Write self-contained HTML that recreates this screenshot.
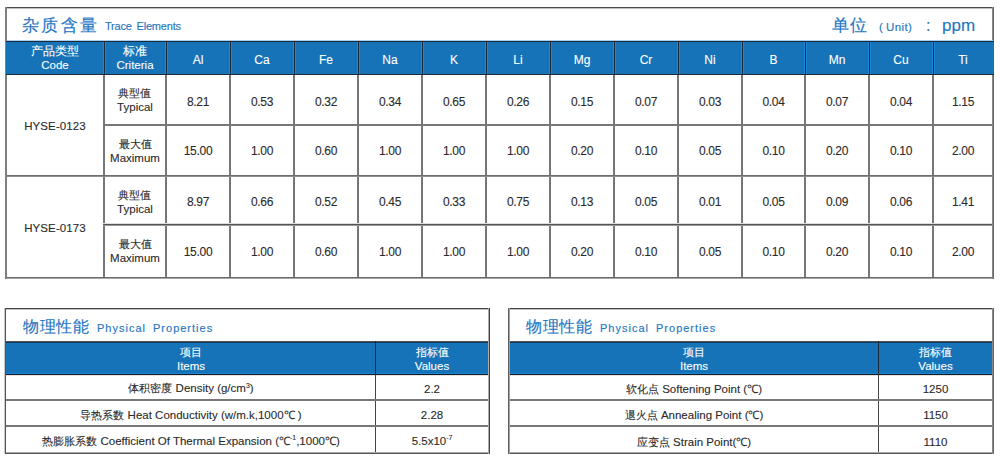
<!DOCTYPE html>
<html><head><meta charset="utf-8"><style>
html,body{margin:0;padding:0;background:#fff;}
body{width:1000px;height:461px;position:relative;overflow:hidden;font-family:"Liberation Sans",sans-serif;}
body>div{position:absolute;}
.a{-webkit-text-stroke:0.15px;white-space:nowrap;line-height:20px;}
.c{-webkit-text-stroke:0.1px;display:flex;align-items:center;justify-content:center;text-align:center;white-space:nowrap;line-height:14px;}
sup{font-size:0.6em;vertical-align:0;position:relative;top:-0.6em;}
</style></head><body>
<div style="left:103px;top:75px;width:2px;height:204px;background:#777777"></div>
<div style="left:165px;top:75px;width:2px;height:204px;background:#777777"></div>
<div style="left:229px;top:75px;width:2px;height:204px;background:#777777"></div>
<div style="left:293px;top:75px;width:2px;height:204px;background:#777777"></div>
<div style="left:357px;top:75px;width:2px;height:204px;background:#777777"></div>
<div style="left:421px;top:75px;width:2px;height:204px;background:#777777"></div>
<div style="left:485px;top:75px;width:2px;height:204px;background:#777777"></div>
<div style="left:549px;top:75px;width:2px;height:204px;background:#777777"></div>
<div style="left:613px;top:75px;width:2px;height:204px;background:#777777"></div>
<div style="left:677px;top:75px;width:2px;height:204px;background:#777777"></div>
<div style="left:741px;top:75px;width:2px;height:204px;background:#777777"></div>
<div style="left:804px;top:75px;width:2px;height:204px;background:#777777"></div>
<div style="left:868px;top:75px;width:2px;height:204px;background:#777777"></div>
<div style="left:932px;top:75px;width:2px;height:204px;background:#777777"></div>
<div style="left:103px;top:124px;width:891px;height:2px;background:#777777"></div>
<div style="left:5px;top:175px;width:989px;height:1px;background:#6e6e6e"></div>
<div style="left:5px;top:176px;width:989px;height:1px;background:#8e8e8e"></div>
<div style="left:103px;top:223px;width:891px;height:1px;background:#dddddd"></div>
<div style="left:103px;top:224px;width:891px;height:1px;background:#555555"></div>
<div style="left:103px;top:225px;width:891px;height:1px;background:#999999"></div>
<div style="left:5px;top:7px;width:989px;height:1px;background:#4a4a4a"></div>
<div style="left:5px;top:8px;width:989px;height:1px;background:#c0c0c0"></div>
<div style="left:5px;top:277px;width:989px;height:1px;background:#686868"></div>
<div style="left:5px;top:278px;width:989px;height:1px;background:#a8a8a8"></div>
<div style="left:5px;top:7px;width:2px;height:272px;background:#808080"></div>
<div style="left:992px;top:7px;width:1px;height:272px;background:#888888"></div>
<div style="left:993px;top:7px;width:1px;height:272px;background:#666666"></div>
<div style="left:7px;top:40px;width:986px;height:1px;background:#a6cff0"></div>
<div style="left:6px;top:41px;width:988px;height:34px;background:#1673b7"></div>
<div style="left:6px;top:41px;width:988px;height:1px;background:#1e2a36"></div>
<div style="left:6px;top:74px;width:988px;height:1px;background:#1e2a36"></div>
<div style="left:103px;top:42px;width:1px;height:32px;background:#1f86d6"></div>
<div style="left:104px;top:41px;width:1px;height:34px;background:#1e2a36"></div>
<div style="left:105px;top:42px;width:1px;height:32px;background:#1f86d6"></div>
<div style="left:165px;top:42px;width:1px;height:32px;background:#1f86d6"></div>
<div style="left:166px;top:41px;width:1px;height:34px;background:#1e2a36"></div>
<div style="left:167px;top:42px;width:1px;height:32px;background:#1f86d6"></div>
<div style="left:229px;top:42px;width:1px;height:32px;background:#1f86d6"></div>
<div style="left:230px;top:41px;width:1px;height:34px;background:#1e2a36"></div>
<div style="left:231px;top:42px;width:1px;height:32px;background:#1f86d6"></div>
<div style="left:293px;top:42px;width:1px;height:32px;background:#1f86d6"></div>
<div style="left:294px;top:41px;width:1px;height:34px;background:#1e2a36"></div>
<div style="left:295px;top:42px;width:1px;height:32px;background:#1f86d6"></div>
<div style="left:357px;top:42px;width:1px;height:32px;background:#1f86d6"></div>
<div style="left:358px;top:41px;width:1px;height:34px;background:#1e2a36"></div>
<div style="left:359px;top:42px;width:1px;height:32px;background:#1f86d6"></div>
<div style="left:421px;top:42px;width:1px;height:32px;background:#1f86d6"></div>
<div style="left:422px;top:41px;width:1px;height:34px;background:#1e2a36"></div>
<div style="left:423px;top:42px;width:1px;height:32px;background:#1f86d6"></div>
<div style="left:485px;top:42px;width:1px;height:32px;background:#1f86d6"></div>
<div style="left:486px;top:41px;width:1px;height:34px;background:#1e2a36"></div>
<div style="left:487px;top:42px;width:1px;height:32px;background:#1f86d6"></div>
<div style="left:549px;top:42px;width:1px;height:32px;background:#1f86d6"></div>
<div style="left:550px;top:41px;width:1px;height:34px;background:#1e2a36"></div>
<div style="left:551px;top:42px;width:1px;height:32px;background:#1f86d6"></div>
<div style="left:613px;top:42px;width:1px;height:32px;background:#1f86d6"></div>
<div style="left:614px;top:41px;width:1px;height:34px;background:#1e2a36"></div>
<div style="left:615px;top:42px;width:1px;height:32px;background:#1f86d6"></div>
<div style="left:677px;top:42px;width:1px;height:32px;background:#1f86d6"></div>
<div style="left:678px;top:41px;width:1px;height:34px;background:#1e2a36"></div>
<div style="left:679px;top:42px;width:1px;height:32px;background:#1f86d6"></div>
<div style="left:741px;top:42px;width:1px;height:32px;background:#1f86d6"></div>
<div style="left:742px;top:41px;width:1px;height:34px;background:#1e2a36"></div>
<div style="left:743px;top:42px;width:1px;height:32px;background:#1f86d6"></div>
<div style="left:804px;top:42px;width:1px;height:32px;background:#1f86d6"></div>
<div style="left:805px;top:41px;width:1px;height:34px;background:#1e2a36"></div>
<div style="left:806px;top:42px;width:1px;height:32px;background:#1f86d6"></div>
<div style="left:868px;top:42px;width:1px;height:32px;background:#1f86d6"></div>
<div style="left:869px;top:41px;width:1px;height:34px;background:#1e2a36"></div>
<div style="left:870px;top:42px;width:1px;height:32px;background:#1f86d6"></div>
<div style="left:932px;top:42px;width:1px;height:32px;background:#1f86d6"></div>
<div style="left:933px;top:41px;width:1px;height:34px;background:#1e2a36"></div>
<div style="left:934px;top:42px;width:1px;height:32px;background:#1f86d6"></div>
<div class="a" style="left:22px;top:16px;font-size:17px;letter-spacing:2.3px;color:#2576c2">杂质含量</div>
<div class="a" style="left:105px;top:16px;font-size:11px;letter-spacing:-0.2px;word-spacing:2px;color:#2576c2">Trace Elements</div>
<div class="a" style="left:832px;top:16px;font-size:17px;letter-spacing:0.5px;color:#2576c2">单位</div>
<div class="a" style="left:879px;top:17px;font-size:11.5px;letter-spacing:0.4px;color:#2576c2">(&thinsp;Unit)</div>
<div class="a" style="left:926px;top:16px;font-size:16px;color:#2576c2">:</div>
<div class="a" style="left:942px;top:16px;font-size:17px;color:#2576c2">ppm</div>
<div class="c" style="left:7px;top:42px;width:96px;height:32px;font-size:11.5px;line-height:14px;color:#fff;"><div><span style="font-size:11.5px">产品类型</span><br>Code</div></div>
<div class="c" style="left:105px;top:42px;width:60px;height:32px;font-size:11.5px;line-height:14px;color:#fff;"><div><span style="font-size:11.5px">标准</span><br>Criteria</div></div>
<div class="c" style="left:167px;top:44px;width:62px;height:32px;font-size:12px;color:#fff;"><div>Al</div></div>
<div class="c" style="left:231px;top:44px;width:62px;height:32px;font-size:12px;color:#fff;"><div>Ca</div></div>
<div class="c" style="left:295px;top:44px;width:62px;height:32px;font-size:12px;color:#fff;"><div>Fe</div></div>
<div class="c" style="left:359px;top:44px;width:62px;height:32px;font-size:12px;color:#fff;"><div>Na</div></div>
<div class="c" style="left:423px;top:44px;width:62px;height:32px;font-size:12px;color:#fff;"><div>K</div></div>
<div class="c" style="left:487px;top:44px;width:62px;height:32px;font-size:12px;color:#fff;"><div>Li</div></div>
<div class="c" style="left:551px;top:44px;width:62px;height:32px;font-size:12px;color:#fff;"><div>Mg</div></div>
<div class="c" style="left:615px;top:44px;width:62px;height:32px;font-size:12px;color:#fff;"><div>Cr</div></div>
<div class="c" style="left:679px;top:44px;width:62px;height:32px;font-size:12px;color:#fff;"><div>Ni</div></div>
<div class="c" style="left:743px;top:44px;width:61px;height:32px;font-size:12px;color:#fff;"><div>B</div></div>
<div class="c" style="left:806px;top:44px;width:62px;height:32px;font-size:12px;color:#fff;"><div>Mn</div></div>
<div class="c" style="left:870px;top:44px;width:62px;height:32px;font-size:12px;color:#fff;"><div>Cu</div></div>
<div class="c" style="left:934px;top:44px;width:58px;height:32px;font-size:12px;color:#fff;"><div>Ti</div></div>
<div class="c" style="left:105px;top:75px;width:60px;height:49px;font-size:11.5px;line-height:14px;color:#2a2a2a;"><div><span style="font-size:10.5px">典型值</span><br>Typical</div></div>
<div class="c" style="left:167px;top:77px;width:62px;height:49px;font-size:12px;color:#2a2a2a;letter-spacing:-0.3px"><div>8.21</div></div>
<div class="c" style="left:231px;top:77px;width:62px;height:49px;font-size:12px;color:#2a2a2a;letter-spacing:-0.3px"><div>0.53</div></div>
<div class="c" style="left:295px;top:77px;width:62px;height:49px;font-size:12px;color:#2a2a2a;letter-spacing:-0.3px"><div>0.32</div></div>
<div class="c" style="left:359px;top:77px;width:62px;height:49px;font-size:12px;color:#2a2a2a;letter-spacing:-0.3px"><div>0.34</div></div>
<div class="c" style="left:423px;top:77px;width:62px;height:49px;font-size:12px;color:#2a2a2a;letter-spacing:-0.3px"><div>0.65</div></div>
<div class="c" style="left:487px;top:77px;width:62px;height:49px;font-size:12px;color:#2a2a2a;letter-spacing:-0.3px"><div>0.26</div></div>
<div class="c" style="left:551px;top:77px;width:62px;height:49px;font-size:12px;color:#2a2a2a;letter-spacing:-0.3px"><div>0.15</div></div>
<div class="c" style="left:615px;top:77px;width:62px;height:49px;font-size:12px;color:#2a2a2a;letter-spacing:-0.3px"><div>0.07</div></div>
<div class="c" style="left:679px;top:77px;width:62px;height:49px;font-size:12px;color:#2a2a2a;letter-spacing:-0.3px"><div>0.03</div></div>
<div class="c" style="left:743px;top:77px;width:61px;height:49px;font-size:12px;color:#2a2a2a;letter-spacing:-0.3px"><div>0.04</div></div>
<div class="c" style="left:806px;top:77px;width:62px;height:49px;font-size:12px;color:#2a2a2a;letter-spacing:-0.3px"><div>0.07</div></div>
<div class="c" style="left:870px;top:77px;width:62px;height:49px;font-size:12px;color:#2a2a2a;letter-spacing:-0.3px"><div>0.04</div></div>
<div class="c" style="left:934px;top:77px;width:58px;height:49px;font-size:12px;color:#2a2a2a;letter-spacing:-0.3px"><div>1.15</div></div>
<div class="c" style="left:105px;top:126.5px;width:60px;height:49px;font-size:11.5px;line-height:14px;color:#2a2a2a;"><div><span style="font-size:10.5px">最大值</span><br>Maximum</div></div>
<div class="c" style="left:167px;top:126.5px;width:62px;height:49px;font-size:12px;color:#2a2a2a;letter-spacing:-0.3px"><div>15.00</div></div>
<div class="c" style="left:231px;top:126.5px;width:62px;height:49px;font-size:12px;color:#2a2a2a;letter-spacing:-0.3px"><div>1.00</div></div>
<div class="c" style="left:295px;top:126.5px;width:62px;height:49px;font-size:12px;color:#2a2a2a;letter-spacing:-0.3px"><div>0.60</div></div>
<div class="c" style="left:359px;top:126.5px;width:62px;height:49px;font-size:12px;color:#2a2a2a;letter-spacing:-0.3px"><div>1.00</div></div>
<div class="c" style="left:423px;top:126.5px;width:62px;height:49px;font-size:12px;color:#2a2a2a;letter-spacing:-0.3px"><div>1.00</div></div>
<div class="c" style="left:487px;top:126.5px;width:62px;height:49px;font-size:12px;color:#2a2a2a;letter-spacing:-0.3px"><div>1.00</div></div>
<div class="c" style="left:551px;top:126.5px;width:62px;height:49px;font-size:12px;color:#2a2a2a;letter-spacing:-0.3px"><div>0.20</div></div>
<div class="c" style="left:615px;top:126.5px;width:62px;height:49px;font-size:12px;color:#2a2a2a;letter-spacing:-0.3px"><div>0.10</div></div>
<div class="c" style="left:679px;top:126.5px;width:62px;height:49px;font-size:12px;color:#2a2a2a;letter-spacing:-0.3px"><div>0.05</div></div>
<div class="c" style="left:743px;top:126.5px;width:61px;height:49px;font-size:12px;color:#2a2a2a;letter-spacing:-0.3px"><div>0.10</div></div>
<div class="c" style="left:806px;top:126.5px;width:62px;height:49px;font-size:12px;color:#2a2a2a;letter-spacing:-0.3px"><div>0.20</div></div>
<div class="c" style="left:870px;top:126.5px;width:62px;height:49px;font-size:12px;color:#2a2a2a;letter-spacing:-0.3px"><div>0.10</div></div>
<div class="c" style="left:934px;top:126.5px;width:58px;height:49px;font-size:12px;color:#2a2a2a;letter-spacing:-0.3px"><div>2.00</div></div>
<div class="c" style="left:105px;top:178px;width:60px;height:47px;font-size:11.5px;line-height:14px;color:#2a2a2a;"><div><span style="font-size:10.5px">典型值</span><br>Typical</div></div>
<div class="c" style="left:167px;top:178px;width:62px;height:47px;font-size:12px;color:#2a2a2a;letter-spacing:-0.3px"><div>8.97</div></div>
<div class="c" style="left:231px;top:178px;width:62px;height:47px;font-size:12px;color:#2a2a2a;letter-spacing:-0.3px"><div>0.66</div></div>
<div class="c" style="left:295px;top:178px;width:62px;height:47px;font-size:12px;color:#2a2a2a;letter-spacing:-0.3px"><div>0.52</div></div>
<div class="c" style="left:359px;top:178px;width:62px;height:47px;font-size:12px;color:#2a2a2a;letter-spacing:-0.3px"><div>0.45</div></div>
<div class="c" style="left:423px;top:178px;width:62px;height:47px;font-size:12px;color:#2a2a2a;letter-spacing:-0.3px"><div>0.33</div></div>
<div class="c" style="left:487px;top:178px;width:62px;height:47px;font-size:12px;color:#2a2a2a;letter-spacing:-0.3px"><div>0.75</div></div>
<div class="c" style="left:551px;top:178px;width:62px;height:47px;font-size:12px;color:#2a2a2a;letter-spacing:-0.3px"><div>0.13</div></div>
<div class="c" style="left:615px;top:178px;width:62px;height:47px;font-size:12px;color:#2a2a2a;letter-spacing:-0.3px"><div>0.05</div></div>
<div class="c" style="left:679px;top:178px;width:62px;height:47px;font-size:12px;color:#2a2a2a;letter-spacing:-0.3px"><div>0.01</div></div>
<div class="c" style="left:743px;top:178px;width:61px;height:47px;font-size:12px;color:#2a2a2a;letter-spacing:-0.3px"><div>0.05</div></div>
<div class="c" style="left:806px;top:178px;width:62px;height:47px;font-size:12px;color:#2a2a2a;letter-spacing:-0.3px"><div>0.09</div></div>
<div class="c" style="left:870px;top:178px;width:62px;height:47px;font-size:12px;color:#2a2a2a;letter-spacing:-0.3px"><div>0.06</div></div>
<div class="c" style="left:934px;top:178px;width:58px;height:47px;font-size:12px;color:#2a2a2a;letter-spacing:-0.3px"><div>1.41</div></div>
<div class="c" style="left:105px;top:225px;width:60px;height:51px;font-size:11.5px;line-height:14px;color:#2a2a2a;"><div><span style="font-size:10.5px">最大值</span><br>Maximum</div></div>
<div class="c" style="left:167px;top:226px;width:62px;height:51px;font-size:12px;color:#2a2a2a;letter-spacing:-0.3px"><div>15.00</div></div>
<div class="c" style="left:231px;top:226px;width:62px;height:51px;font-size:12px;color:#2a2a2a;letter-spacing:-0.3px"><div>1.00</div></div>
<div class="c" style="left:295px;top:226px;width:62px;height:51px;font-size:12px;color:#2a2a2a;letter-spacing:-0.3px"><div>0.60</div></div>
<div class="c" style="left:359px;top:226px;width:62px;height:51px;font-size:12px;color:#2a2a2a;letter-spacing:-0.3px"><div>1.00</div></div>
<div class="c" style="left:423px;top:226px;width:62px;height:51px;font-size:12px;color:#2a2a2a;letter-spacing:-0.3px"><div>1.00</div></div>
<div class="c" style="left:487px;top:226px;width:62px;height:51px;font-size:12px;color:#2a2a2a;letter-spacing:-0.3px"><div>1.00</div></div>
<div class="c" style="left:551px;top:226px;width:62px;height:51px;font-size:12px;color:#2a2a2a;letter-spacing:-0.3px"><div>0.20</div></div>
<div class="c" style="left:615px;top:226px;width:62px;height:51px;font-size:12px;color:#2a2a2a;letter-spacing:-0.3px"><div>0.10</div></div>
<div class="c" style="left:679px;top:226px;width:62px;height:51px;font-size:12px;color:#2a2a2a;letter-spacing:-0.3px"><div>0.05</div></div>
<div class="c" style="left:743px;top:226px;width:61px;height:51px;font-size:12px;color:#2a2a2a;letter-spacing:-0.3px"><div>0.10</div></div>
<div class="c" style="left:806px;top:226px;width:62px;height:51px;font-size:12px;color:#2a2a2a;letter-spacing:-0.3px"><div>0.20</div></div>
<div class="c" style="left:870px;top:226px;width:62px;height:51px;font-size:12px;color:#2a2a2a;letter-spacing:-0.3px"><div>0.10</div></div>
<div class="c" style="left:934px;top:226px;width:58px;height:51px;font-size:12px;color:#2a2a2a;letter-spacing:-0.3px"><div>2.00</div></div>
<div class="c" style="left:7px;top:76px;width:96px;height:100px;font-size:11.5px;color:#2a2a2a;letter-spacing:0.1px"><div>HYSE-0123</div></div>
<div class="c" style="left:7px;top:178px;width:96px;height:100px;font-size:11.5px;color:#2a2a2a;letter-spacing:0.1px"><div>HYSE-0173</div></div>
<div style="left:5px;top:341px;width:485px;height:34px;background:#1673b7"></div>
<div style="left:5px;top:341px;width:485px;height:1px;background:#55504c"></div>
<div style="left:5px;top:342px;width:485px;height:1px;background:#0f3d66"></div>
<div style="left:5px;top:373px;width:485px;height:1px;background:#1a84d2"></div>
<div style="left:5px;top:374px;width:485px;height:1px;background:#0c1c2c"></div>
<div style="left:5px;top:375px;width:485px;height:1px;background:#ece2da"></div>
<div style="left:375px;top:341px;width:1px;height:34px;background:#1e2a36"></div>
<div style="left:375px;top:375px;width:1px;height:79px;background:#444"></div>
<div style="left:5px;top:399px;width:485px;height:2px;background:#777777"></div>
<div style="left:5px;top:425px;width:485px;height:2px;background:#777777"></div>
<div style="left:5px;top:308px;width:485px;height:1px;background:#444444"></div>
<div style="left:5px;top:309px;width:485px;height:1px;background:#c4c4c4"></div>
<div style="left:5px;top:452px;width:485px;height:1px;background:#aaaaaa"></div>
<div style="left:5px;top:453px;width:485px;height:1px;background:#555555"></div>
<div style="left:4px;top:308px;width:1px;height:146px;background:#c8c8c8"></div>
<div style="left:5px;top:308px;width:1px;height:146px;background:#555555"></div>
<div style="left:488px;top:308px;width:1px;height:146px;background:#aaaaaa"></div>
<div style="left:489px;top:308px;width:1px;height:146px;background:#444444"></div>
<div class="a" style="left:23px;top:317px;font-size:16px;letter-spacing:0.6px;color:#2576c2">物理性能</div>
<div class="a" style="left:97px;top:318px;font-size:11px;letter-spacing:1px;word-spacing:3px;color:#2576c2">Physical Properties</div>
<div class="c" style="left:7px;top:343px;width:368px;height:32px;font-size:11.5px;line-height:14.5px;color:#fff;"><div><span style="font-size:11px">项目</span><br>Items</div></div>
<div class="c" style="left:376px;top:343px;width:112px;height:32px;font-size:11.5px;line-height:14.5px;color:#fff;"><div><span style="font-size:11px">指标值</span><br>Values</div></div>
<div class="c" style="left:7px;top:377px;width:368px;height:24px;font-size:11.5px;color:#2a2a2a;"><div><span style="font-size:10.5px">体积密度</span> Density (g/cm<sup>3</sup>)</div></div>
<div class="c" style="left:376px;top:377px;width:112px;height:24px;font-size:11.5px;color:#2a2a2a;"><div>2.2</div></div>
<div class="c" style="left:7px;top:403px;width:368px;height:24px;font-size:11.5px;color:#2a2a2a;"><div><span style="font-size:10.5px">导热系数</span> Heat Conductivity (w/m.k,1000℃ )</div></div>
<div class="c" style="left:376px;top:403px;width:112px;height:24px;font-size:11.5px;color:#2a2a2a;"><div>2.28</div></div>
<div class="c" style="left:7px;top:429px;width:368px;height:25px;font-size:11.5px;color:#2a2a2a;"><div><span style="font-size:10.5px">热膨胀系数</span> Coefficient Of Thermal Expansion (℃<sup>-1</sup>,1000℃)</div></div>
<div class="c" style="left:376px;top:429px;width:112px;height:25px;font-size:11.5px;color:#2a2a2a;"><div>5.5x10<sup>-7</sup></div></div>
<div style="left:508px;top:341px;width:486px;height:34px;background:#1673b7"></div>
<div style="left:508px;top:341px;width:486px;height:1px;background:#55504c"></div>
<div style="left:508px;top:342px;width:486px;height:1px;background:#0f3d66"></div>
<div style="left:508px;top:373px;width:486px;height:1px;background:#1a84d2"></div>
<div style="left:508px;top:374px;width:486px;height:1px;background:#0c1c2c"></div>
<div style="left:508px;top:375px;width:486px;height:1px;background:#ece2da"></div>
<div style="left:878px;top:341px;width:1px;height:34px;background:#1e2a36"></div>
<div style="left:878px;top:375px;width:1px;height:79px;background:#444"></div>
<div style="left:508px;top:399px;width:486px;height:2px;background:#777777"></div>
<div style="left:508px;top:425px;width:486px;height:2px;background:#777777"></div>
<div style="left:508px;top:308px;width:486px;height:1px;background:#444444"></div>
<div style="left:508px;top:309px;width:486px;height:1px;background:#c4c4c4"></div>
<div style="left:508px;top:452px;width:486px;height:1px;background:#aaaaaa"></div>
<div style="left:508px;top:453px;width:486px;height:1px;background:#555555"></div>
<div style="left:508px;top:308px;width:1px;height:146px;background:#606060"></div>
<div style="left:509px;top:308px;width:1px;height:146px;background:#a0a0a0"></div>
<div style="left:992px;top:308px;width:1px;height:146px;background:#888888"></div>
<div style="left:993px;top:308px;width:1px;height:146px;background:#666666"></div>
<div class="a" style="left:526px;top:317px;font-size:16px;letter-spacing:0.6px;color:#2576c2">物理性能</div>
<div class="a" style="left:600px;top:318px;font-size:11px;letter-spacing:1px;word-spacing:3px;color:#2576c2">Physical Properties</div>
<div class="c" style="left:510px;top:343px;width:368px;height:32px;font-size:11.5px;line-height:14.5px;color:#fff;"><div><span style="font-size:11px">项目</span><br>Items</div></div>
<div class="c" style="left:879px;top:343px;width:113px;height:32px;font-size:11.5px;line-height:14.5px;color:#fff;"><div><span style="font-size:11px">指标值</span><br>Values</div></div>
<div class="c" style="left:510px;top:377px;width:368px;height:24px;font-size:11.5px;color:#2a2a2a;"><div><span style="font-size:10.5px">软化点</span> Softening Point (℃)</div></div>
<div class="c" style="left:879px;top:377px;width:113px;height:24px;font-size:11.5px;color:#2a2a2a;"><div>1250</div></div>
<div class="c" style="left:510px;top:403px;width:368px;height:24px;font-size:11.5px;color:#2a2a2a;"><div><span style="font-size:10.5px">退火点</span> Annealing Point (℃)</div></div>
<div class="c" style="left:879px;top:403px;width:113px;height:24px;font-size:11.5px;color:#2a2a2a;"><div>1150</div></div>
<div class="c" style="left:510px;top:429px;width:368px;height:25px;font-size:11.5px;color:#2a2a2a;"><div><span style="font-size:10.5px">应变点</span> Strain Point(℃)</div></div>
<div class="c" style="left:879px;top:429px;width:113px;height:25px;font-size:11.5px;color:#2a2a2a;"><div>1110</div></div>
</body></html>
